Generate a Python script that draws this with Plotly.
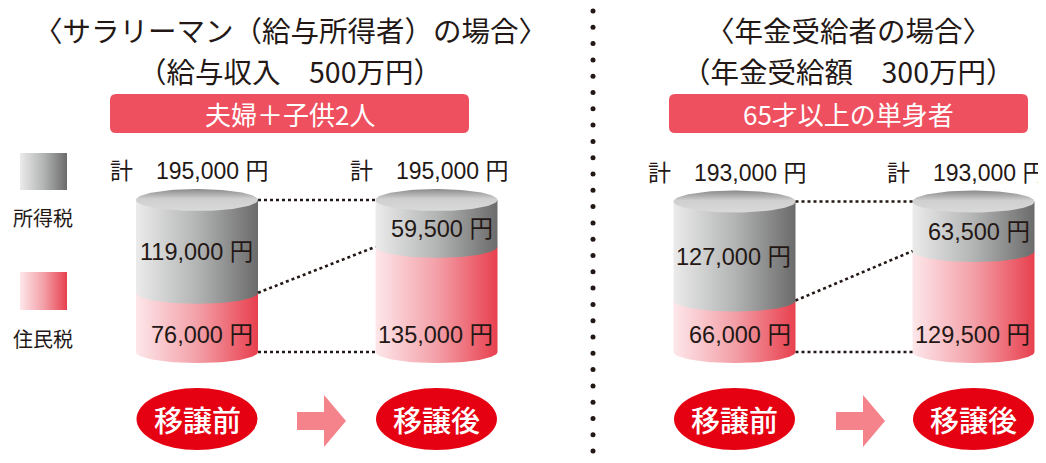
import numpy as np
import plotly.graph_objects as go

# ---------------- data ----------------
stage_labels = ["移譲前", "移譲後", "移譲前", "移譲後"]
income_tax = [119000, 59500, 127000, 63500]      # 所得税
resident_tax = [76000, 135000, 66000, 129500]    # 住民税
totals = [195000, 195000, 193000, 193000]        # 計 (as printed)
legend_labels = ["所得税", "住民税"]
panel_titles = ["〈サラリーマン（給与所得者）の場合〉", "〈年金受給者の場合〉"]
panel_subtitles = ["（給与収入　500万円）", "（年金受給額　300万円）"]
panel_tags = ["夫婦＋子供2人", "65才以上の単身者"]

# ---------------- layout / style constants ----------------
W, H = 1046, 463          # window
OFF = 8                   # default page body margin
FW, FH = W - OFF, H - OFF  # figure size so that it fits without scrollbars
CYL_CX = [197, 436.5, 734.5, 973.5]
CYL_RX = 61
ELL_RY_PX = 11
BASE_PX, TOP_PX = 352, 200
PANEL_CX = [290, 848]
TAG_X = [(110, 469), (669, 1028)]
TAG_Y = (94, 133)
ARROW_X0 = [297, 836]
SEP_X = 593
INK = "#231815"
JP = "Noto Sans CJK JP"
NUM = "Liberation Sans, Noto Sans CJK JP"

GRAY_CS = [[0, "#ebebeb"], [0.5, "#b3b4b4"], [1, "#6b6b6b"]]
PINK_CS = [[0, "#fde7ea"], [0.5, "#f3a0a8"], [1, "#e8404e"]]
TOP_CS = [[0, "#d9d9d9"], [0.55, "#cfcfcf"], [1, "#8a8a8a"]]

# value axis: 0 at BASE_PX, max total at TOP_PX (page pixels)
span = max(totals) * FH / (BASE_PX - TOP_PX)
r0 = -(H - BASE_PX) / FH * span
r1 = r0 + span
ry = ELL_RY_PX * span / FH

fig = go.Figure()


def body(cx, ytop, ybot, cs):
    t = np.linspace(0, np.pi, 60)
    xs = [cx - CYL_RX, cx + CYL_RX] + list(cx + CYL_RX * np.cos(t)) + [cx - CYL_RX]
    ys = [ytop, ytop] + list(ybot - ry * np.sin(t)) + [ytop]
    fig.add_trace(go.Scatter(x=xs, y=ys, mode="lines", line=dict(width=0),
                             fill="toself",
                             fillgradient=dict(type="horizontal", colorscale=cs),
                             hoverinfo="skip", showlegend=False))


def top_ellipse(cx, yc):
    t = np.linspace(0, 2 * np.pi, 120)
    fig.add_trace(go.Scatter(x=cx + CYL_RX * np.cos(t), y=yc + ry * np.sin(t),
                             mode="lines", line=dict(width=0), fill="toself",
                             fillgradient=dict(type="vertical", colorscale=TOP_CS),
                             hoverinfo="skip", showlegend=False))


# cylinders
for i, cx in enumerate(CYL_CX):
    body(cx, resident_tax[i], 0, PINK_CS)
    body(cx, totals[i], resident_tax[i], GRAY_CS)
    top_ellipse(cx, totals[i])

# connectors between before/after
for a, b in [(0, 1), (2, 3)]:
    for va, vb in [(totals[a], totals[b]), (resident_tax[a], resident_tax[b]), (0, 0)]:
        fig.add_trace(go.Scatter(x=[CYL_CX[a] + CYL_RX, CYL_CX[b] - CYL_RX], y=[va, vb],
                                 mode="lines",
                                 line=dict(color=INK, width=2.6, dash="3px,3px"),
                                 hoverinfo="skip", showlegend=False))

# separator dots (pixel axis)
sep_y = np.arange(11, 460, 16.3)
fig.add_trace(go.Scatter(x=[SEP_X] * len(sep_y), y=sep_y, yaxis="y2", mode="markers",
                         marker=dict(size=5, color=INK), hoverinfo="skip", showlegend=False))

# legend swatches
for (y0, y1), cs in [((153, 190), GRAY_CS), ((272, 310), PINK_CS)]:
    fig.add_trace(go.Scatter(x=[20, 67, 67, 20, 20], y=[y0, y0, y1, y1, y0], yaxis="y2",
                             mode="lines", line=dict(width=0), fill="toself",
                             fillgradient=dict(type="horizontal", colorscale=cs),
                             hoverinfo="skip", showlegend=False))

shapes = []
ann = []

# panel headers
for p in range(2):
    ann.append(dict(x=PANEL_CX[p], y=29, yref="y2", text=panel_titles[p], showarrow=False,
                    font=dict(family=JP, size=28.5, color=INK)))
    ann.append(dict(x=PANEL_CX[p], y=70, yref="y2", text=panel_subtitles[p], showarrow=False,
                    font=dict(family=JP, size=28.5, color=INK)))
    x0, x1 = TAG_X[p]
    y0, y1 = TAG_Y
    r = 6
    path = (f"M {x0+r},{y0} L {x1-r},{y0} Q {x1},{y0} {x1},{y0+r} L {x1},{y1-r} "
            f"Q {x1},{y1} {x1-r},{y1} L {x0+r},{y1} Q {x0},{y1} {x0},{y1-r} "
            f"L {x0},{y0+r} Q {x0},{y0} {x0+r},{y0} Z")
    shapes.append(dict(type="path", path=path, xref="x", yref="y2",
                       fillcolor="#ef505f", line=dict(width=0)))
    ann.append(dict(x=(x0 + x1) / 2, y=(y0 + y1) / 2, yref="y2", text=panel_tags[p],
                    showarrow=False, font=dict(family=JP, size=26, color="white")))
    # arrow
    ax = ARROW_X0[p]
    apath = (f"M {ax},412 L {ax+27},412 L {ax+27},395 L {ax+49},421 "
             f"L {ax+27},447 L {ax+27},430 L {ax},430 Z")
    shapes.append(dict(type="path", path=apath, xref="x", yref="y2",
                       fillcolor="#f4838b", line=dict(width=0)))

# legend labels
ann.append(dict(x=43, y=217, yref="y2", text=legend_labels[0], showarrow=False,
                font=dict(family=JP, size=20, color=INK)))
ann.append(dict(x=43, y=338, yref="y2", text=legend_labels[1], showarrow=False,
                font=dict(family=JP, size=20, color=INK)))

# cylinder labels + stage ovals
for i, cx in enumerate(CYL_CX):
    ann.append(dict(x=cx - 7.5, y=totals[i], yref="y", yshift=29,
                    text=f"計\u3000{totals[i]:,} 円", showarrow=False,
                    font=dict(family=NUM, size=23, color=INK)))
    ann.append(dict(x=cx + CYL_RX - 3, xanchor="right", y=(resident_tax[i] + totals[i]) / 2,
                    yref="y", yshift=-6, text=f"{income_tax[i]:,} 円", showarrow=False,
                    font=dict(family=NUM, size=23.5, color=INK)))
    ann.append(dict(x=cx + CYL_RX - 3, xanchor="right", y=0, yanchor="bottom",
                    yref="y", yshift=2, text=f"{resident_tax[i]:,} 円", showarrow=False,
                    font=dict(family=NUM, size=23.5, color=INK)))
    shapes.append(dict(type="circle", xref="x", yref="y2", x0=cx - 60.5, x1=cx + 60.5,
                       y0=388, y1=450, fillcolor="#e50012", line=dict(width=0)))
    ann.append(dict(x=cx, y=419, yref="y2", text=stage_labels[i], showarrow=False,
                    font=dict(family=JP, size=29, color="white", weight=500)))

fig.update_layout(
    width=FW, height=FH, margin=dict(l=0, r=0, t=0, b=0),
    paper_bgcolor="white", plot_bgcolor="white",
    xaxis=dict(range=[OFF, W], visible=False, fixedrange=True),
    yaxis=dict(range=[r0, r1], visible=False, fixedrange=True),
    yaxis2=dict(range=[H, OFF], visible=False, fixedrange=True, overlaying="y"),
    shapes=shapes, annotations=ann, showlegend=False,
)

fig.write_html("out.html")
